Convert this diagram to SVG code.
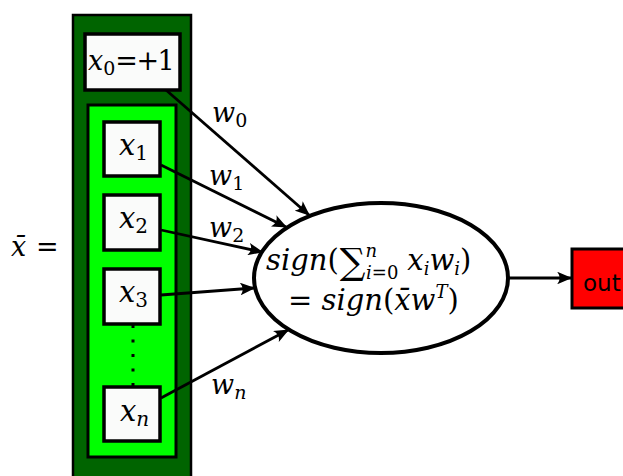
<svg xmlns="http://www.w3.org/2000/svg" width="623" height="476" viewBox="0 0 623 476">
<defs>
<style>
.m{font-family:"DejaVu Serif","Liberation Serif",serif;font-style:italic;fill:#000}
.r{font-family:"DejaVu Serif","Liberation Serif",serif;font-style:normal;fill:#000}
.box{fill:#fafbfa;stroke:#000;stroke-width:3.5}
.con{stroke:#000;stroke-width:2.8;fill:none;marker-end:url(#ah)}
</style>
<marker id="ah" viewBox="0 0 12 10" refX="11" refY="5" markerWidth="5.4" markerHeight="4.5" orient="auto" markerUnits="strokeWidth">
<path d="M0,0 Q4,5 0,10 L12,5 z" fill="#000"/>
</marker>
</defs>
<rect width="623" height="476" fill="#fff"/>
<text class="m" x="11" y="256" font-size="27">x̄<tspan class="r" x="36">=</tspan></text>
<g id="outer">
<rect x="73" y="15" width="118" height="470" fill="#006400" stroke="#000" stroke-width="2.5"/>
</g>
<g id="x0">
<rect class="box" x="85" y="34" width="95" height="56"/>
<text class="m" x="88" y="70" font-size="27">x<tspan font-size="19" dy="5" class="r">0</tspan><tspan class="r" dy="-5" letter-spacing="-1.5">=+1</tspan></text>
</g>
<g id="inner">
<rect x="88" y="105" width="88" height="352" fill="#00ff00" stroke="#000" stroke-width="3"/>
<line x1="133" y1="325" x2="133" y2="387" stroke="#000" stroke-width="3" stroke-dasharray="3,11.5"/>
</g>
<g id="x1">
<rect class="box" x="104" y="122" width="56" height="54"/>
<text class="m" x="119" y="155" font-size="29">x<tspan font-size="20" dy="5" class="r">1</tspan></text>
</g>
<g id="x2">
<rect class="box" x="104" y="195" width="56" height="55"/>
<text class="m" x="119" y="228" font-size="29">x<tspan font-size="20" dy="5" class="r">2</tspan></text>
</g>
<g id="x3">
<rect class="box" x="104" y="269" width="56" height="55"/>
<text class="m" x="119" y="302" font-size="29">x<tspan font-size="20" dy="5" class="r">3</tspan></text>
</g>
<g id="xn">
<rect class="box" x="104" y="387" width="56" height="54"/>
<text class="m" x="120" y="421" font-size="29">x<tspan font-size="20" dy="5">n</tspan></text>
</g>
<g id="neuron">
<ellipse cx="381" cy="278" rx="127" ry="75" fill="#fff" stroke="#000" stroke-width="4"/>
<text class="m" x="266" y="270" font-size="29">sign<tspan class="r">(</tspan><tspan class="r" font-size="36" dy="4" dx="1">∑</tspan><tspan font-size="18" dy="-17">n</tspan><tspan font-size="18" dx="-11" dy="22">i</tspan><tspan class="r" font-size="18">=0</tspan><tspan dy="-9" dx="9">x</tspan><tspan font-size="18" dy="5">i</tspan><tspan dy="-5">w</tspan><tspan font-size="18" dy="5">i</tspan><tspan class="r" dy="-5">)</tspan></text>
<text class="m" x="288" y="310" font-size="29"><tspan class="r">= </tspan>sign<tspan class="r">(</tspan>x̄w<tspan font-size="18" dy="-12">T</tspan><tspan class="r" dy="12">)</tspan></text>
</g>
<g id="out">
<rect x="572" y="249" width="60" height="59" fill="#ff0000" stroke="#000" stroke-width="3"/>
<text x="583" y="291" font-family="'DejaVu Sans','Liberation Sans',sans-serif" font-size="23" fill="#000">out</text>
</g>
<g id="connectors">
<line class="con" x1="166" y1="90" x2="309" y2="215"/>
<line class="con" x1="161" y1="165" x2="286" y2="227"/>
<line class="con" x1="161" y1="230" x2="262" y2="252"/>
<line class="con" x1="161" y1="295" x2="254" y2="288"/>
<line class="con" x1="161" y1="398" x2="288" y2="330"/>
<line class="con" x1="508" y1="278" x2="571" y2="278"/>
</g>
<g id="labels">
<text class="m" x="212" y="122" font-size="27">w<tspan class="r" font-size="19" dy="5">0</tspan></text>
<text class="m" x="209" y="185" font-size="27">w<tspan class="r" font-size="19" dy="5">1</tspan></text>
<text class="m" x="209" y="237" font-size="27">w<tspan class="r" font-size="19" dy="5">2</tspan></text>
<text class="m" x="211" y="394" font-size="27">w<tspan font-size="19" dy="5">n</tspan></text>
</g>
</svg>
